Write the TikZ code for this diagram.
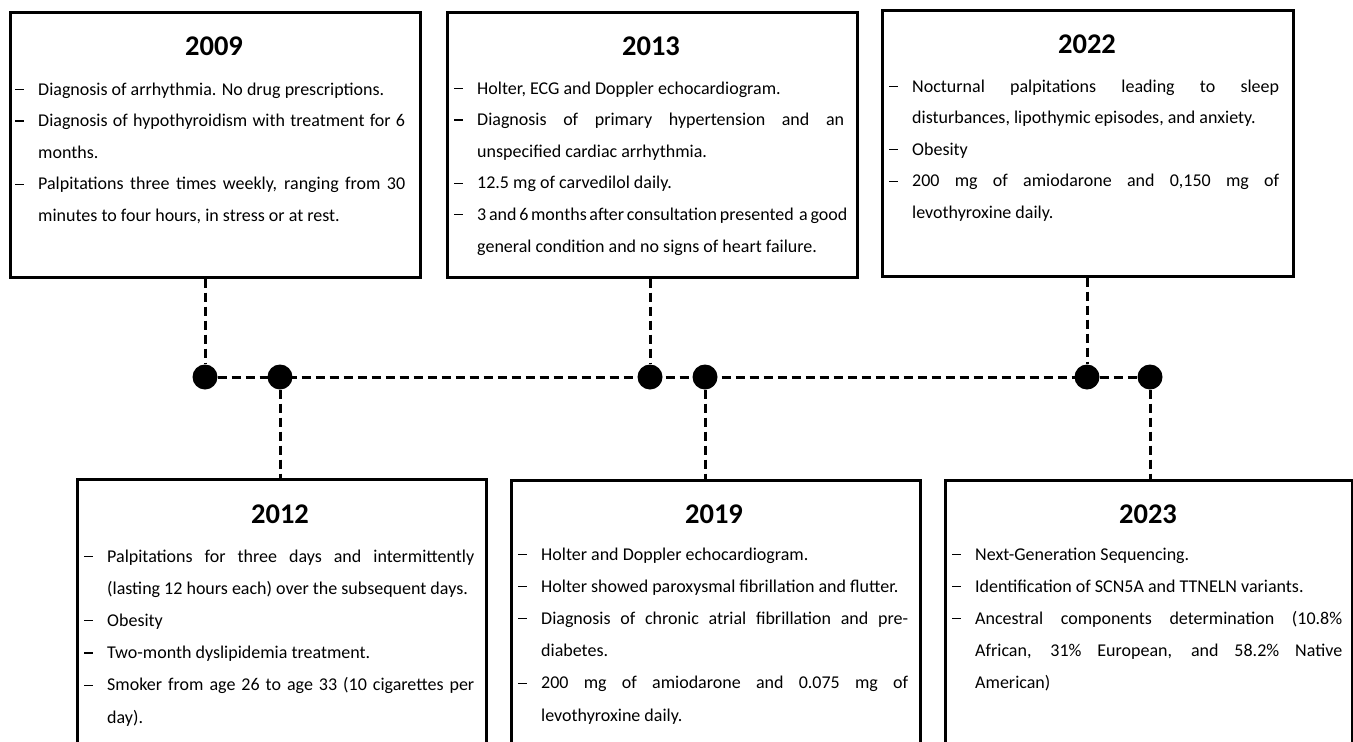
\documentclass[tikz,border=0pt]{standalone}
\usepackage{fontspec}
\setmainfont{Carlito}
\newlength\tw
\setlength\tw{367pt}
\newcommand\LJ[2]{\hbox{\hbox to 23pt{#1\hss}\hbox to \tw{#2}}}
\newcommand\LN[2]{\hbox{\hbox to 23pt{#1\hss}#2}}
\newcommand\bd{\rule[5pt]{9pt}{1.3pt}}
\newcommand\bodytxt[2][31.6pt]{\vtop{\fontsize{18pt}{#1}\selectfont\baselineskip=#1\relax #2}}
\tikzset{
  evbox/.style={draw, line width=2.5pt, rectangle, anchor=north west, inner sep=0pt},
  yeartitle/.style={anchor=base, inner sep=0pt, font=\fontsize{28.5pt}{30pt}\selectfont\bfseries},
  bodynode/.style={anchor=base west, inner sep=0pt},
  dot/.style={circle, fill=black, minimum size=25pt, inner sep=0pt},
  dashline/.style={line width=3pt, dash pattern=on 9pt off 5pt}
}
\begin{document}
\begin{tikzpicture}[x=1pt, y=-1pt]
\useasboundingbox (0,0) rectangle (1353,742);
\begin{scope}
\clip (0,0) rectangle (1353,742);
% boxes
\node[evbox, minimum width=410pt, minimum height=265pt] (b2009) at (9,11) {};
\node[evbox, minimum width=410pt, minimum height=265pt] (b2013) at (446,11) {};
\node[evbox, minimum width=411pt, minimum height=266pt] (b2022) at (881,9) {};
\node[evbox, minimum width=409pt, minimum height=300pt] (b2012) at (76,478) {};
\node[evbox, minimum width=409pt, minimum height=300pt] (b2019) at (510,479) {};
\node[evbox, minimum width=407pt, minimum height=300pt] (b2023) at (944,479) {};
% titles
\node[yeartitle] (t2009) at (214,55) {2009};
\node[yeartitle] (t2013) at (651,55) {2013};
\node[yeartitle] (t2022) at (1087,53) {2022};
\node[yeartitle] (t2012) at (280,523) {2012};
\node[yeartitle] (t2019) at (714,523) {2019};
\node[yeartitle] (t2023) at (1148,523) {2023};
% bodies
\node[bodynode] (x2009) at (15,95) {\bodytxt{%
\LN{\bd}{Diagnosis of arrhythmia. No drug prescriptions.}
\LJ{\bd}{Diagnosis of hypothyroidism with treatment for 6}
\LN{}{months.}
\LJ{\bd}{Palpitations three times weekly, ranging from 30}
\LN{}{minutes to four hours, in stress or at rest.}}};
\node[bodynode] (x2013) at (454,94) {\bodytxt{%
\LN{\bd}{Holter, ECG and Doppler echocardiogram.}
\LJ{\bd}{Diagnosis of primary hypertension and an}
\LN{}{unspecified cardiac arrhythmia.}
\LN{\bd}{12.5 mg of carvedilol daily.}
\LJ{\bd}{3 and 6 months after consultation presented\ \ a good}
\LN{}{general condition and no signs of heart failure.}}};
\node[bodynode] (x2022) at (889,92) {\bodytxt{%
\LJ{\bd}{Nocturnal palpitations leading to sleep}
\LN{}{disturbances, lipothymic episodes, and anxiety.}
\LN{\bd}{Obesity}
\LJ{\bd}{200 mg of amiodarone and 0,150 mg of}
\LN{}{levothyroxine daily.}}};
\node[bodynode] (x2012) at (84,562) {\bodytxt[32.2pt]{%
\LJ{\bd}{Palpitations for three days and intermittently}
\LN{}{(lasting 12 hours each) over the subsequent days.}
\LN{\bd}{Obesity}
\LN{\bd}{Two-month dyslipidemia treatment.}
\LJ{\bd}{Smoker from age 26 to age 33 (10 cigarettes per}
\LN{}{day).}}};
\node[bodynode] (x2019) at (518,560) {\bodytxt[32.2pt]{%
\LN{\bd}{Holter and Doppler echocardiogram.}
\LN{\bd}{Holter showed paroxysmal fibrillation and flutter.}
\LJ{\bd}{Diagnosis of chronic atrial fibrillation and pre-}
\LN{}{diabetes.}
\LJ{\bd}{200 mg of amiodarone and 0.075 mg of}
\LN{}{levothyroxine daily.}}};
\node[bodynode] (x2023) at (952,560) {\bodytxt[32.2pt]{%
\LN{\bd}{Next-Generation Sequencing.}
\LN{\bd}{Identification of SCN5A and TTNELN variants.}
\LJ{\bd}{Ancestral components determination (10.8\%}
\LJ{}{African, 31\% European, and 58.2\% Native}
\LN{}{American)}}};
% dots
\node[dot] (d1) at (205,377) {};
\node[dot] (d2) at (280,377) {};
\node[dot] (d3) at (650,377) {};
\node[dot] (d4) at (705,377) {};
\node[dot] (d5) at (1087,377) {};
\node[dot] (d6) at (1150,377) {};
% connectors
\draw[dashline] (d1) -- (d6);
\draw[dashline] (b2009.south -| d1) -- (d1);
\draw[dashline] (d2) -- (b2012.north -| d2);
\draw[dashline] (b2013.south -| d3) -- (d3);
\draw[dashline] (d4) -- (b2019.north -| d4);
\draw[dashline] (b2022.south -| d5) -- (d5);
\draw[dashline] (d6) -- (b2023.north -| d6);
\end{scope}
\end{tikzpicture}
\end{document}
